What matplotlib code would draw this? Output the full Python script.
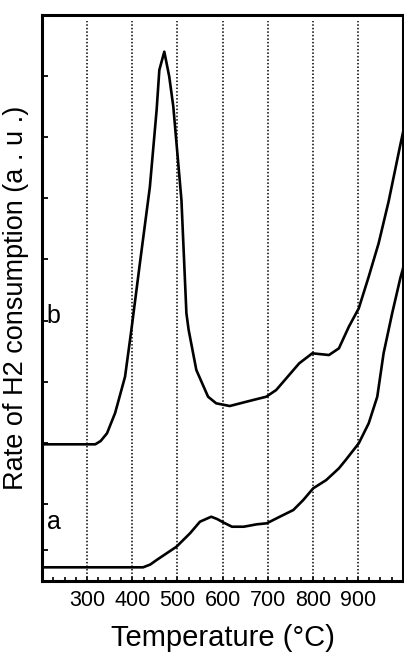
import matplotlib
matplotlib.use("Agg")
import matplotlib.pyplot as plt
import numpy as np

plt.rcParams['font.family'] = ['Liberation Sans', 'DejaVu Sans']

# TPR profiles (temperature in deg C, signal in arbitrary units)
temp_a = [200, 424, 440, 454, 498, 528, 550, 575, 588, 603, 621, 647, 676, 698,
          727, 757, 779, 801, 830, 858, 873, 902, 924, 943, 957, 976, 994, 1000]
rate_a = [13.2, 13.2, 16.0, 20.5, 33.8, 47.2, 58.8, 63.8, 61.5, 57.8, 53.8,
          53.8, 56.2, 57.2, 63.8, 70.5, 80.5, 92.2, 100.5, 112.2, 120.5, 137.2,
          157.2, 183.8, 227.2, 267.2, 302.2, 312.0]

temp_b = [200, 318, 330, 344, 362, 384, 398, 417, 439, 454, 460, 471, 482, 491,
          509, 520, 525, 542, 568, 586, 616, 653, 697, 719, 770, 799, 836,
          858, 880, 902, 924, 946, 968, 994, 1000]
rate_b = [136.2, 136.2, 139.5, 147.2, 167.5, 203.8, 250.5, 317.5, 393.5,
          470.5, 510.5, 528.8, 503.8, 473.8, 380.5, 267.2, 250.5, 210.5, 183.8,
          177.2, 174.5, 178.8, 183.8, 190.5, 217.2, 227.2, 225.5, 232.2,
          253.8, 272.2, 303.8, 337.2, 378.8, 435.5, 448.0]

xtick_vals = [300, 400, 500, 600, 700, 800, 900]
ytick_vals = [30.5, 76.5, 137.5, 198.5, 260.0, 321.5, 382.5, 443.5, 505.0]

fig = plt.figure(figsize=(4.04, 6.53), dpi=100)
ax = fig.add_axes([0.104, 0.111, 0.8935, 0.866])

for t in xtick_vals:
    ax.axvline(t, ymin=0, ymax=0.99, color='black', lw=1.1,
               linestyle=(0, (1, 1.3)), zorder=1)

ax.plot(temp_a, rate_a, color='black', lw=1.9, solid_joinstyle='round', zorder=3)
ax.plot(temp_b, rate_b, color='black', lw=1.9, solid_joinstyle='round', zorder=3)

ax.text(210, 265, 'b', fontsize=18, ha='left', va='center')
ax.text(212, 59, 'a', fontsize=18, ha='left', va='center')

ax.set_xlim(200, 1000)
ax.set_ylim(0, 565.5)

ax.set_xticks(xtick_vals)
ax.set_xticklabels([str(t) for t in xtick_vals], fontsize=15.5)
ax.set_xticks(np.arange(200, 1001, 25), minor=True)
ax.tick_params(axis='x', which='both', direction='in', length=3,
               width=1.2, pad=7)
ax.set_yticks(ytick_vals)
ax.set_yticklabels([])
ax.tick_params(axis='y', direction='in', length=4, width=1.3)

for s in ax.spines.values():
    s.set_linewidth(2.2)

ax.set_xlabel('Temperature (°C)', fontsize=21, labelpad=9)
ax.set_ylabel('Rate of H2 consumption (a . u .)', fontsize=19.5, labelpad=6)

fig.savefig('out.png', dpi=100)
